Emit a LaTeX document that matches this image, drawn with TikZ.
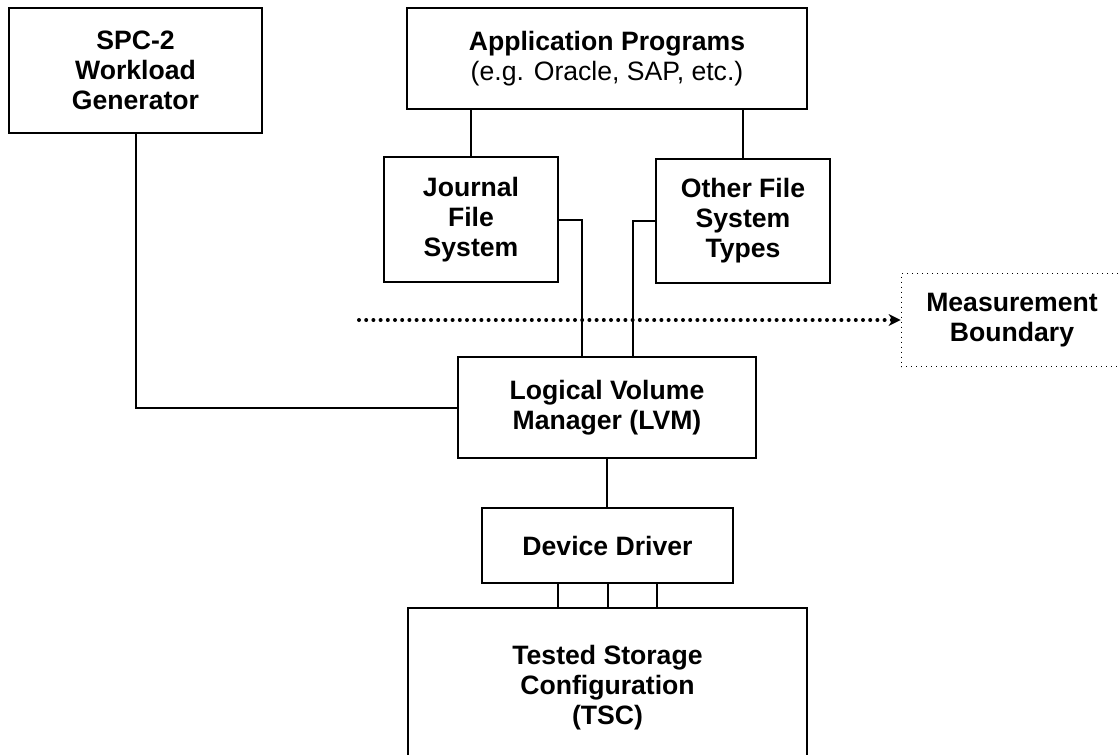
\documentclass[tikz,border=0pt]{standalone}
\usepackage{fontspec}
\setmainfont{Liberation Sans}
\usetikzlibrary{arrows.meta,calc,positioning}

\begin{document}
\begin{tikzpicture}[x=0.5pt, y=-0.5pt,
    every node/.style={font=\fontsize{13.3}{15}\selectfont\bfseries, align=center},
    blk/.style={draw, line width=1pt, inner sep=0pt},
    link/.style={line width=1pt},
    bound/.style={draw, dotted, line width=0.5pt, inner sep=0pt}]
                    \useasboundingbox (0, 0) rectangle (1120, 755);
                    % boxes
                    \node[blk, minimum width=126.5pt, minimum height=62.5pt] (spc) at (135.5, 70.5) {SPC-2\\Workload\\Generator};
                    \node[blk, minimum width=200pt, minimum height=50.5pt] (app) at (607, 58.5) {Application Programs\\{\mdseries (e.g. Oracle, SAP, etc.)}};
                    \node[blk, minimum width=87pt, minimum height=62.5pt] (jfs) at (471, 219.5) {Journal\\File\\System};
                    \node[blk, minimum width=87pt, minimum height=62pt] (ofs) at (743, 221) {Other File\\System\\Types};
                    \node[blk, minimum width=149pt, minimum height=50.5pt] (lvm) at (607, 407.5) {Logical Volume\\Manager (LVM)};
                    \node[blk, minimum width=125.5pt, minimum height=37.5pt] (dd) at (607.5, 545.5) {Device Driver};
                    \node[blk, minimum width=199.5pt, minimum height=80pt] (tsc) at (607.5, 688) {Tested Storage\\Configuration\\(TSC)};
                    \node[bound, minimum width=111pt, minimum height=46.5pt] (mb) at (1012, 320) {Measurement\\Boundary};
                    \coordinate (mbstart) at (359, 320);

                    % connectors
                    \draw[link] (jfs.north) -- (jfs.north |- app.south);
                    \draw[link] (ofs.north) -- (ofs.north |- app.south);
                    \draw[link] (jfs.east) -| ($(lvm.north)+(-25, 0)$);
                    \draw[link] (ofs.west) -| ($(lvm.north)+(26, 0)$);
                    \draw[link] (spc.south) |- (lvm.west);
                    \draw[link] (lvm.south) -- (lvm.south |- dd.north);
                    \draw[link] ($(dd.south)+(-50, 0)$) -- ($(dd.south |- tsc.north)+(-50, 0)$);
                    \draw[link] (dd.south) -- (dd.south |- tsc.north);
                    \draw[link] ($(dd.south)+(49, 0)$) -- ($(dd.south |- tsc.north)+(49, 0)$);
                    \draw[line width=2pt, line cap=round, dash pattern=on 0pt off 3.6pt, -{Stealth[length=6pt, width=6pt, line width=0pt]}] (mbstart) -- (mb.west);
                \end{tikzpicture}
\end{document}
